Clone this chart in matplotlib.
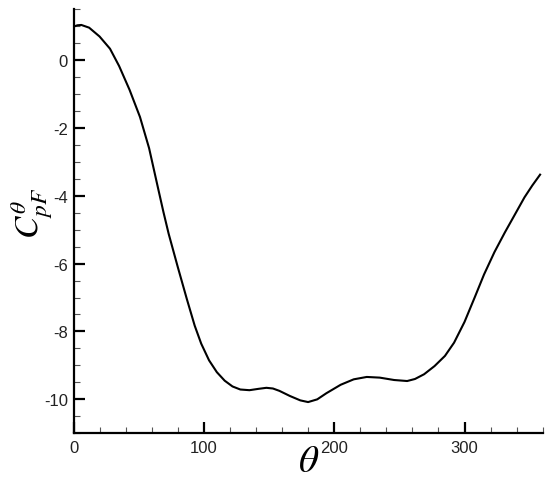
import numpy as np
import matplotlib
matplotlib.use("Agg")
import matplotlib.pyplot as plt
from matplotlib.ticker import MultipleLocator

# pressure coefficient vs angle
theta = [0, 3, 6, 12, 20, 28, 35, 43, 51, 58, 65, 69, 73, 80, 87, 93, 98,
         104, 110, 116, 122, 128, 135, 142, 148, 153, 158, 166, 174, 180,
         187, 194, 205, 215, 225, 235, 246, 256, 262, 269, 277, 285, 292,
         300, 308, 315, 323, 331, 338, 346, 352, 358]
cp = [0.98, 1.02, 1.03, 0.95, 0.69, 0.33, -0.18, -0.88, -1.68, -2.6, -3.8,
      -4.48, -5.12, -6.1, -7.05, -7.83, -8.36, -8.85, -9.2, -9.45, -9.62,
      -9.71, -9.73, -9.69, -9.66, -9.68, -9.75, -9.9, -10.03, -10.08, -10.0,
      -9.82, -9.57, -9.41, -9.34, -9.36, -9.43, -9.46, -9.4, -9.26, -9.02,
      -8.72, -8.33, -7.72, -6.98, -6.32, -5.66, -5.08, -4.6, -4.05, -3.7,
      -3.38]

xticks = [0, 100, 200, 300]
yticks = [0, -2, -4, -6, -8, -10]

plt.rcParams['font.family'] = ['Liberation Sans', 'DejaVu Sans']
plt.rcParams['mathtext.fontset'] = 'stix'
plt.rcParams['axes.unicode_minus'] = False

fig = plt.figure(figsize=(5.5, 4.81), dpi=100)
ax = fig.add_axes([73.5/550, 46.7/481, 469.2/550, 424.3/481])

ax.plot(theta, cp, color='black', lw=1.5)

ax.set_xlim(0, 360)
ax.set_ylim(-11, 1.5)
ax.set_xticks(xticks)
ax.set_yticks(yticks)
ax.xaxis.set_minor_locator(MultipleLocator(20))
ax.yaxis.set_minor_locator(MultipleLocator(0.5))

for s in ['top', 'right']:
    ax.spines[s].set_visible(False)
for s in ['left', 'bottom']:
    ax.spines[s].set_linewidth(1.6)

ax.tick_params(which='major', direction='in', length=8, width=1.6,
               labelsize=12, labelcolor='#222222')
ax.tick_params(axis='x', which='major', pad=5)
ax.tick_params(axis='y', which='major', pad=4)
ax.tick_params(which='minor', direction='in', length=4.5, width=0.8,
               color='#555555')

ax.set_xlabel(r'$\theta$', fontsize=28)
ax.xaxis.set_label_coords(0.502, -0.024)
ax.set_ylabel(r'$C^{\theta}_{pF}$', fontsize=24)
ax.yaxis.set_label_coords(-0.04, 0.52)

fig.savefig('out.png', dpi=100)
